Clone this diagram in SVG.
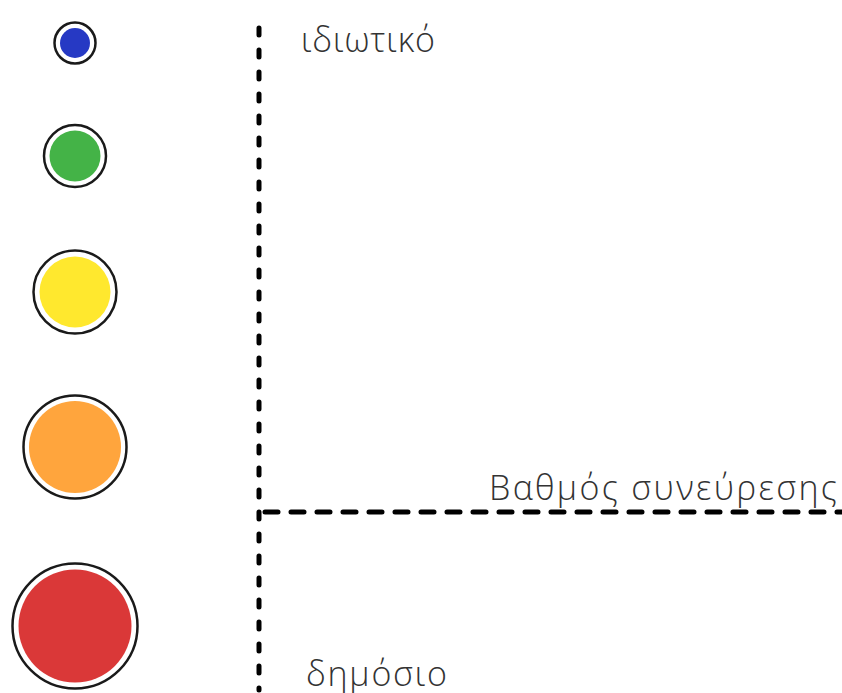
<svg xmlns="http://www.w3.org/2000/svg" width="842" height="693" viewBox="0 0 842 693">
<style>
.ring{fill:#fff;stroke:#1a1a1a;stroke-width:2.5}
.lbl{font-family:"Open Sans","DejaVu Sans",sans-serif;font-weight:300;font-size:34px;fill:#333}
.axis{fill:none;stroke:#000;stroke-width:5;stroke-linecap:round}
</style>
<rect width="842" height="693" fill="#fff"/>
<g id="connectors">
<line class="axis" x1="259" y1="28" x2="259" y2="690" stroke-dasharray="7 15"/>
<line class="axis" x1="265" y1="512" x2="842" y2="512" stroke-dasharray="13 13"/>
</g>
<g id="n-blue"><circle class="ring" cx="75" cy="43" r="20.5"/><circle cx="75" cy="43" r="15" fill="#2639c4"/></g>
<g id="n-green"><circle class="ring" cx="75" cy="156" r="31"/><circle cx="75" cy="156" r="25.5" fill="#44b347"/></g>
<g id="n-yellow"><circle class="ring" cx="75" cy="292" r="41.5"/><circle cx="75" cy="292" r="35.5" fill="#ffe82e"/></g>
<g id="n-orange"><circle class="ring" cx="75" cy="447" r="51.5"/><circle cx="75" cy="447" r="46" fill="#ffa53d"/></g>
<g id="n-red"><circle class="ring" cx="75" cy="626" r="62.5"/><circle cx="75" cy="626" r="56.5" fill="#da3838"/></g>
<g id="labels">
<text class="lbl" x="301" y="52" textLength="134" lengthAdjust="spacing">ιδιωτικό</text>
<text class="lbl" x="489" y="500" textLength="348" lengthAdjust="spacing">Βαθμός συνεύρεσης</text>
<text class="lbl" x="306" y="686" textLength="141" lengthAdjust="spacing">δημόσιο</text>
</g>
</svg>
